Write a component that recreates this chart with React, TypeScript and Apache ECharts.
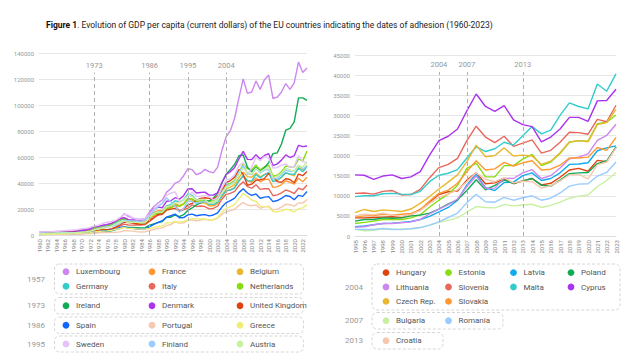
import React, { useEffect, useRef } from "react";
import * as echarts from "echarts";

// ---------- categories ----------
const yearsLeft: string[] = [];
for (let y = 1960; y <= 2023; y++) yearsLeft.push(String(y));
const yearsRight: string[] = [];
for (let y = 1995; y <= 2023; y++) yearsRight.push(String(y));

const adhesionLeft = ["1973", "1986", "1995", "2004"];
const adhesionRight = ["2004", "2007", "2013"];

// ---------- left chart series (1960-2023) ----------
const luxembourg = [
  2242, 2276, 2261, 2387, 2643, 2700, 2822, 2846,
  3082, 3557, 3996, 4143, 4992, 6406, 7247, 7344,
  8102, 8814, 10659, 12304, 16400, 14300, 12900, 12400,
  12200, 12700, 17800, 21900, 24600, 27000, 33000, 35600,
  39900, 41200, 45600, 51000, 50300, 46400, 47700, 50500,
  48700, 47800, 52200, 65000, 75600, 80300, 90000, 105500,
  120000, 109000, 110000, 118500, 112000, 119500, 123000, 105000,
  106000, 110000, 116500, 112000, 117000, 133000, 125000, 128500,
];
const france = [
  1338, 1428, 1564, 1733, 1900, 2024, 2172, 2330,
  2500, 2760, 2870, 3173, 3810, 4970, 5200, 6570,
  6800, 7530, 9270, 11200, 13100, 11600, 11200, 10500,
  9900, 10300, 14400, 17400, 18800, 18700, 22000, 22000,
  24000, 22500, 24000, 27400, 27300, 24800, 25300, 24900,
  22400, 22400, 24300, 29600, 33700, 34800, 36500, 41600,
  45400, 41600, 40600, 43800, 40900, 42600, 43000, 36600,
  37000, 38800, 41600, 40600, 39200, 43700, 41000, 44500,
];
const belgium = [
  1273, 1350, 1440, 1541, 1700, 1835, 1958, 2086,
  2200, 2450, 2740, 3100, 3840, 4900, 5900, 6900,
  7400, 8700, 10500, 12300, 13000, 10900, 9300, 8800,
  8500, 8850, 12300, 15200, 16400, 16600, 20600, 20900,
  23100, 22000, 23900, 28000, 26900, 24300, 24700, 24600,
  23100, 23100, 25200, 30600, 35400, 36800, 38700, 44300,
  48400, 44900, 44400, 47700, 44700, 46700, 47800, 41000,
  42000, 44200, 47600, 46600, 45600, 51800, 50100, 53500,
];
const germany = [
  1400, 1550, 1660, 1740, 1900, 2050, 2150, 2200,
  2400, 2700, 2761, 3190, 3820, 5050, 5630, 6030,
  6500, 7600, 9500, 11300, 12100, 10200, 9900, 9900,
  9400, 9430, 13400, 16600, 17800, 17700, 22300, 23400,
  26400, 25500, 27100, 31700, 30500, 27000, 27300, 26800,
  23600, 23600, 25200, 30300, 34100, 34500, 36300, 41600,
  45600, 41700, 41600, 46600, 43900, 46300, 48000, 41100,
  42100, 44600, 47900, 46800, 46700, 51400, 48700, 52700,
];
const italy = [
  800, 880, 980, 1120, 1200, 1280, 1380, 1500,
  1620, 1780, 2100, 2300, 2680, 3200, 3600, 4100,
  3900, 4500, 5600, 6800, 8400, 7700, 7600, 7900,
  7700, 8000, 11300, 13900, 15200, 16000, 20100, 21200,
  22500, 18700, 19300, 20600, 23100, 21800, 22300, 21900,
  20100, 20400, 22300, 27500, 31300, 32000, 33500, 37800,
  40900, 37200, 36000, 38600, 35100, 35600, 35600, 30200,
  30900, 32400, 34600, 33600, 31900, 36000, 34800, 38400,
];
const netherlands = [
  1070, 1170, 1250, 1330, 1550, 1730, 1850, 2000,
  2200, 2480, 2700, 3150, 3800, 4900, 5800, 6600,
  7300, 8400, 10100, 11600, 12800, 10800, 10400, 10200,
  9500, 9600, 13400, 16100, 17000, 16600, 20700, 21000,
  23000, 22300, 23800, 28100, 27800, 25600, 26400, 26700,
  25900, 26500, 28500, 34600, 38700, 39700, 42100, 48400,
  54800, 50900, 50300, 53800, 50100, 52500, 53600, 45200,
  46000, 48700, 53000, 52500, 52400, 58300, 57000, 64600,
];
const ireland = [
  690, 740, 790, 850, 950, 1000, 1050, 1130,
  1200, 1380, 1520, 1700, 2000, 2400, 2500, 2900,
  2900, 3300, 4200, 5000, 6200, 5900, 5800, 5600,
  5400, 5600, 7600, 8600, 9500, 10300, 13600, 13700,
  15400, 14100, 15600, 19000, 20800, 23200, 24800, 26300,
  26200, 28300, 32500, 40000, 46800, 50500, 54400, 61000,
  61500, 52100, 48700, 52200, 49000, 51700, 55700, 62600,
  63200, 70000, 80600, 82000, 87000, 105500, 105500, 103500,
];
const denmark = [
  1380, 1500, 1660, 1730, 1950, 2140, 2340, 2500,
  2620, 2950, 3460, 3800, 4500, 6000, 6600, 7500,
  8000, 8900, 10500, 12500, 13300, 11800, 11500, 11500,
  11200, 11800, 16300, 20100, 21400, 21000, 26000, 26300,
  28700, 27600, 30200, 35400, 35600, 32300, 32700, 33000,
  30700, 30800, 32500, 40400, 46500, 48800, 52000, 58500,
  64300, 58200, 58000, 61800, 58500, 61200, 62500, 53300,
  54700, 57600, 61600, 59600, 61000, 69000, 68000, 68500,
];
const unitedKingdom = [
  1400, 1470, 1530, 1620, 1750, 1870, 1990, 2060,
  1950, 2100, 2350, 2650, 3030, 3430, 3670, 4300,
  4140, 4680, 5980, 7800, 10000, 9600, 9100, 8700,
  8200, 8600, 10600, 13100, 15900, 16200, 19100, 19900,
  20500, 18400, 20000, 23100, 24300, 26700, 28200, 28700,
  28200, 27700, 30000, 34400, 40200, 41900, 44500, 50400,
  46600, 38300, 39100, 42000, 42500, 43400, 47400, 44900,
  41100, 40600, 43300, 42700, 40200, 46900, 45600, 48900,
];
const spain = [
  400, 450, 520, 600, 670, 770, 890, 1000,
  960, 1090, 1200, 1350, 1650, 2150, 2650, 3200,
  3300, 3600, 4400, 5800, 6200, 5400, 5100, 4500,
  4500, 4700, 6500, 8200, 9700, 11000, 13800, 14800,
  16100, 13300, 13400, 15500, 16100, 14800, 15400, 15700,
  14700, 15400, 17100, 21500, 24900, 26400, 28400, 32600,
  35500, 32300, 30500, 31600, 28300, 29100, 29500, 25700,
  26500, 28200, 30400, 29600, 27100, 30500, 29700, 33500,
];
const portugal = [
  360, 380, 400, 430, 460, 510, 560, 610,
  680, 730, 800, 900, 1070, 1400, 1600, 1800,
  1900, 2000, 2100, 2400, 3300, 3200, 3000, 2600,
  2300, 2500, 3500, 4300, 5000, 5500, 7200, 8100,
  9900, 9100, 9400, 11300, 11600, 11000, 11500, 12000,
  11500, 11700, 12900, 15800, 18100, 18800, 19800, 22800,
  24900, 23100, 22500, 23200, 20600, 21600, 22100, 19300,
  19900, 21500, 23600, 23300, 22200, 24600, 24500, 27300,
];
const greece = [
  520, 590, 620, 690, 770, 880, 970, 1050,
  1130, 1290, 1430, 1580, 1830, 2400, 2700, 3000,
  3200, 3600, 4300, 5000, 5900, 5100, 5000, 4700,
  4500, 4700, 5100, 5800, 6600, 6900, 9200, 9500,
  10400, 9800, 10200, 11700, 12600, 12400, 12300, 12400,
  11400, 11900, 13400, 17500, 20600, 21600, 23500, 27800,
  31900, 29700, 26900, 25900, 22200, 21800, 21600, 18100,
  17900, 18600, 19800, 19200, 17700, 20300, 20900, 23400,
];
const sweden = [
  2100, 2230, 2400, 2600, 2850, 3100, 3400, 3600,
  3800, 4100, 4700, 5100, 5800, 6900, 7500, 9000,
  9800, 10400, 11300, 13300, 16000, 15300, 13300, 11800,
  12100, 12500, 16400, 19700, 22600, 24100, 30600, 32100,
  33200, 25500, 27000, 30100, 33000, 29700, 29800, 30300,
  29600, 26900, 29000, 36200, 42200, 43100, 46300, 53300,
  55800, 46200, 52100, 60000, 57100, 60300, 59300, 51500,
  51800, 53800, 54600, 51900, 52800, 61000, 56400, 55500,
];
const finland = [
  1170, 1300, 1370, 1480, 1640, 1780, 1890, 1900,
  1770, 2000, 2400, 2600, 3000, 3900, 4900, 5800,
  6300, 6600, 7300, 8700, 11000, 11000, 10900, 10600,
  10700, 11300, 15000, 18600, 21800, 24600, 28400, 25500,
  22000, 17500, 20300, 26200, 25700, 24400, 25400, 25700,
  24300, 24900, 26700, 32800, 37600, 38900, 41100, 48300,
  53400, 47300, 46400, 51100, 47700, 49900, 50300, 42800,
  43800, 46400, 50000, 48800, 49200, 53700, 50800, 53000,
];
const austria = [
  940, 1050, 1110, 1190, 1290, 1390, 1510, 1600,
  1700, 1860, 2050, 2400, 2950, 3900, 4600, 5300,
  5700, 6800, 8300, 9800, 10900, 9600, 9700, 9800,
  9300, 9600, 13500, 16600, 17800, 17600, 21700, 22400,
  24800, 24700, 26700, 30300, 29800, 26700, 27400, 27100,
  24600, 24600, 26400, 32100, 36800, 38400, 40400, 46600,
  51400, 48000, 46900, 51400, 48600, 50700, 51800, 44200,
  45300, 47400, 51500, 50100, 48800, 53600, 52100, 56500,
];

// ---------- right chart series (1995-2023) ----------
const hungary = [4500, 4500, 4600, 4700, 4800, 4600, 5300, 6600, 8400, 10300, 11000, 11200, 13900, 15700, 13000, 13200, 14200, 13000, 13700, 14300, 12700, 13100, 14600, 16400, 16800, 16100, 18800, 18500, 22100];
const estonia = [3100, 3400, 3700, 4100, 4100, 4100, 4500, 5300, 7200, 8900, 10400, 12600, 16800, 18100, 14700, 14700, 17500, 17500, 19100, 20300, 17500, 18400, 20500, 23300, 23700, 23600, 27900, 28300, 30100];
const latvia = [2300, 2500, 2800, 3100, 3200, 3400, 3600, 4100, 4900, 6000, 7100, 8900, 12700, 15400, 12000, 11300, 13300, 13400, 15000, 15700, 13800, 14300, 15700, 17800, 17900, 18200, 21200, 21900, 22400];
const poland = [3700, 4100, 4100, 4500, 4400, 4500, 5000, 5200, 5700, 6700, 8000, 9000, 11300, 14000, 11500, 12600, 13900, 13100, 13700, 14300, 12600, 12400, 13900, 15500, 15700, 15800, 18000, 18700, 22100];
const lithuania = [2200, 2300, 2800, 3100, 3100, 3300, 3500, 4100, 5500, 6700, 7800, 9200, 12300, 14900, 11800, 11900, 14400, 14300, 15700, 16500, 14300, 15000, 16900, 19200, 19600, 20400, 23800, 25000, 27800];
const slovenia = [10600, 10700, 10400, 11100, 11300, 10200, 10300, 11600, 14500, 17000, 17800, 19300, 23700, 27300, 24600, 23200, 24800, 22300, 23100, 23900, 20600, 21300, 23300, 25800, 25700, 25300, 29000, 28400, 32500];
const malta = [9800, 10000, 10000, 10500, 10600, 10400, 10300, 11100, 13500, 15100, 15600, 16500, 19400, 22200, 21000, 21700, 23300, 22600, 24900, 27200, 25400, 26300, 30000, 33100, 32200, 31600, 37800, 36000, 40300];
const cyprus = [15200, 15100, 14100, 14900, 15200, 14300, 14700, 16000, 20100, 23700, 24800, 26600, 31100, 35300, 32200, 31000, 32400, 28900, 27700, 27200, 23400, 24600, 26600, 29500, 29500, 28500, 33600, 33700, 36500];
const czechRep = [5800, 6600, 6100, 6500, 6300, 6100, 6700, 8100, 9800, 11700, 13400, 15200, 18500, 22600, 19700, 20000, 21900, 19900, 20100, 19900, 17800, 18600, 20700, 23400, 23700, 23400, 27700, 28200, 31500];
const slovakia = [4800, 5000, 5100, 5400, 5200, 5400, 5600, 6500, 8700, 10600, 11400, 13100, 16000, 18700, 16400, 16700, 18300, 17400, 18200, 18700, 16400, 16600, 17600, 19400, 19400, 19600, 22000, 21300, 24500];
const bulgaria = [1700, 1300, 1400, 1800, 1700, 1600, 1800, 2100, 2700, 3400, 3900, 4500, 5900, 7300, 7100, 7000, 7800, 7500, 7700, 7900, 7100, 7600, 8400, 9400, 9900, 10200, 12300, 13800, 15800];
const romania = [1650, 1600, 1600, 1870, 1600, 1650, 1800, 2100, 2700, 3500, 4600, 5700, 8300, 10400, 8500, 8400, 9600, 8900, 9500, 10000, 8900, 9400, 10700, 12400, 12900, 13000, 14900, 15800, 18400];
const croatia = [5000, 5400, 5300, 5700, 5200, 4900, 5300, 6300, 8100, 9600, 10400, 11500, 13500, 15700, 14100, 13500, 14500, 13200, 13600, 13500, 11900, 12500, 13700, 15200, 15300, 14200, 17700, 18400, 21900];

// ---------- groups ----------
type S = { name: string; data: number[]; color: string };
const groupsLeft: { year: string; items: S[] }[] = [
  { year: "1957", items: [
    { name: "Luxembourg", data: luxembourg, color: "#cc88ee" },
    { name: "France", data: france, color: "#ff9933" },
    { name: "Belgium", data: belgium, color: "#e8b830" },
    { name: "Germany", data: germany, color: "#33cccc" },
    { name: "Italy", data: italy, color: "#e8685c" },
    { name: "Netherlands", data: netherlands, color: "#88dd11" },
  ] },
  { year: "1973", items: [
    { name: "Ireland", data: ireland, color: "#11aa55" },
    { name: "Denmark", data: denmark, color: "#aa33ee" },
    { name: "United Kingdom", data: unitedKingdom, color: "#dd4411" },
  ] },
  { year: "1986", items: [
    { name: "Spain", data: spain, color: "#1166ff" },
    { name: "Portugal", data: portugal, color: "#f7c8b0" },
    { name: "Greece", data: greece, color: "#eeee77" },
  ] },
  { year: "1995", items: [
    { name: "Sweden", data: sweden, color: "#e6c4f8" },
    { name: "Finland", data: finland, color: "#99ccff" },
    { name: "Austria", data: austria, color: "#c8f0a0" },
  ] },
];
const groupsRight: { year: string; items: S[] }[] = [
  { year: "2004", items: [
    { name: "Hungary", data: hungary, color: "#dd4411" },
    { name: "Estonia", data: estonia, color: "#88dd11" },
    { name: "Latvia", data: latvia, color: "#11aaee" },
    { name: "Poland", data: poland, color: "#11aa55" },
    { name: "Lithuania", data: lithuania, color: "#cc88ee" },
    { name: "Slovenia", data: slovenia, color: "#e8685c" },
    { name: "Malta", data: malta, color: "#33cccc" },
    { name: "Cyprus", data: cyprus, color: "#aa33ee" },
    { name: "Czech Rep.", data: czechRep, color: "#e8b830" },
    { name: "Slovakia", data: slovakia, color: "#ff9933" },
  ] },
  { year: "2007", items: [
    { name: "Bulgaria", data: bulgaria, color: "#c8f0a0" },
    { name: "Romania", data: romania, color: "#99ccff" },
  ] },
  { year: "2013", items: [
    { name: "Croatia", data: croatia, color: "#f7c8b0" },
  ] },
];

const FONT = "Roboto, 'Noto Sans', sans-serif";

export default function App() {
  const ref = useRef<HTMLDivElement>(null);
  useEffect(() => {
    if (!ref.current) return;
    const chart = echarts.init(ref.current, undefined, { renderer: "svg" });

    const mkSeries = (groups: typeof groupsLeft, idx: number) =>
      groups.flatMap((g) => g.items).map((s) => ({
        type: "line",
        name: s.name,
        xAxisIndex: idx,
        yAxisIndex: idx,
        data: s.data,
        showSymbol: false,
        symbol: "none",
        lineStyle: { width: 1.4, color: s.color },
        itemStyle: { color: s.color },
        z: 3,
      }));

    const mkMark = (years: string[], idx: number, top: number) => ({
      type: "line",
      xAxisIndex: idx,
      yAxisIndex: idx,
      data: [],
      silent: true,
      markLine: {
        silent: true,
        symbol: ["none", "none"],
        lineStyle: { type: [4, 3], color: "#b0b0b0", width: 1 },
        label: { show: true, position: "end", formatter: "{b}", color: "#999", fontSize: 7.5, fontFamily: FONT, distance: 3 },
        data: years.map((y) => [{ coord: [y, 0], name: y }, { coord: [y, top] }]),
      },
      z: 1,
    });

    // legend graphics
    const graphics: any[] = [];
    const addLegend = (
      groups: typeof groupsLeft,
      boxX: number,
      boxW: number[],
      tops: number[],
      heights: number[],
      colX: number[],
      yearRight: number,
      rowStep: number
    ) => {
      groups.forEach((g, gi) => {
        const top = tops[gi];
        const h = heights[gi];
        graphics.push({
          type: "rect",
          shape: { x: boxX, y: top, width: boxW[gi], height: h, r: 5 },
          style: { fill: "none", stroke: "#d6d6d6", lineWidth: 1, lineDash: [3, 2] },
          silent: true,
        });
        graphics.push({
          type: "text",
          x: yearRight,
          y: top + h / 2,
          style: { text: g.year, fill: "#999", font: `8px ${FONT}`, textAlign: "right", textVerticalAlign: "middle" },
        });
        const nCol = colX.length;
        const rows = Math.ceil(g.items.length / nCol);
        const firstY = top + h / 2 - ((rows - 1) * rowStep) / 2;
        g.items.forEach((s, i) => {
          const c = i % nCol;
          const r = Math.floor(i / nCol);
          const cy = firstY + r * rowStep;
          graphics.push({ type: "circle", shape: { cx: colX[c], cy, r: 3.4 }, style: { fill: s.color } });
          graphics.push({
            type: "text",
            x: colX[c] + 10,
            y: cy,
            style: { text: s.name, fill: "#555", font: `8px ${FONT}`, textVerticalAlign: "middle" },
          });
        });
      });
    };
    addLegend(groupsLeft, 54.5, [249, 249, 249, 249], [264, 297.5, 317, 336], [30, 16.5, 16.5, 16], [66, 152, 240], 45, 14.6);
    addLegend(groupsRight, 372, [248, 131, 71], [264, 312.5, 332.5], [46, 16.5, 16.5], [386, 448.5, 513.5, 571], 363, 14.4);

    const axisLabelY = { color: "#999", fontSize: 6, fontFamily: FONT, margin: 5, formatter: (v: number) => String(v) };
    const axisLabelX = { color: "#888", fontSize: 6, fontFamily: FONT, rotate: 90, margin: 4 };

    chart.setOption({
      animation: false,
      textStyle: { fontFamily: FONT },
      title: {
        left: 41,
        top: 15,
        text: "{b|Figure 1}. Evolution of GDP per capita (current dollars) of the EU countries indicating the dates of adhesion (1960-2023)",
        textStyle: {
          fontSize: 8.5,
          fontWeight: "normal",
          color: "#222",
          fontFamily: FONT,
          rich: { b: { fontWeight: "bold", fontSize: 8.5, color: "#111", fontFamily: FONT } },
        },
      },
      grid: [
        { left: 39, top: 53, width: 268, height: 182 },
        { left: 355, top: 55, width: 261, height: 181 },
      ],
      xAxis: [
        {
          type: "category", gridIndex: 0, data: yearsLeft, boundaryGap: false,
          axisLine: { lineStyle: { color: "#ddd" } }, axisTick: { show: false },
          axisLabel: { ...axisLabelX, interval: 1 },
        },
        {
          type: "category", gridIndex: 1, data: yearsRight, boundaryGap: false,
          axisLine: { lineStyle: { color: "#ddd" } }, axisTick: { show: false },
          axisLabel: { ...axisLabelX, interval: 0 },
        },
      ],
      yAxis: [
        {
          type: "value", gridIndex: 0, min: 0, max: 140000, interval: 20000,
          axisLine: { show: false }, axisTick: { show: false },
          splitLine: { lineStyle: { color: "#e6e6e6" } }, axisLabel: axisLabelY,
        },
        {
          type: "value", gridIndex: 1, min: 0, max: 45000, interval: 5000,
          axisLine: { show: false }, axisTick: { show: false },
          splitLine: { lineStyle: { color: "#e6e6e6" } }, axisLabel: axisLabelY,
        },
      ],
      series: [
        mkMark(adhesionLeft, 0, 125000),
        mkMark(adhesionRight, 1, 40800),
        ...mkSeries(groupsLeft, 0),
        ...mkSeries(groupsRight, 1),
      ],
      graphic: graphics,
    });
    return () => chart.dispose();
  }, []);
  return <div ref={ref} style={{ width: 640, height: 360, position: "absolute", left: 0, top: 0, background: "#fff" }} />;
}
